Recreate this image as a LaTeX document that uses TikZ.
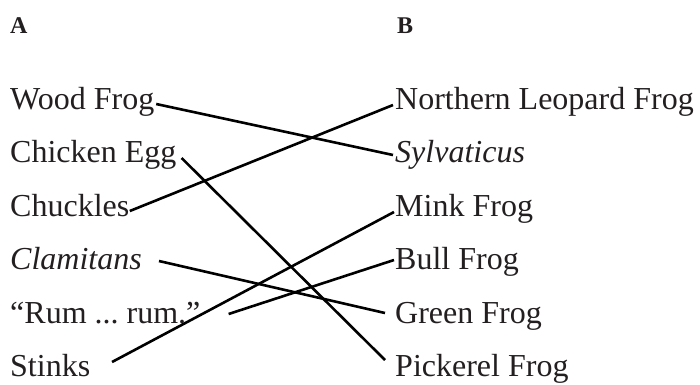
\documentclass[tikz,border=0pt]{standalone}
\usepackage{fontspec}
\setmainfont{Liberation Serif}
\definecolor{ink}{HTML}{231F20}
\frenchspacing
\begin{document}
\begin{tikzpicture}[x=1pt,y=-1pt,
  item/.style={anchor=base west,inner sep=0pt,text=ink,font=\fontsize{32}{36}\selectfont},
  head/.style={anchor=base west,inner sep=0pt,text=ink,font=\fontsize{24}{28}\selectfont\bfseries},
  link/.style={draw=black,line width=2.6pt}]
\useasboundingbox (0,0) rectangle (700,384);
% column headings
\node[head] (hA) at (10,33) {A};
\node[head] (hB) at (397,33) {B};
% column A
\node[item] (wood)  at (10,109)   {Wood Frog};
\node[item] (egg)   at (10,162.5) {Chicken Egg};
\node[item] (chuck) at (10,216)   {Chuckles};
\node[item] (clam)  at (10,269.5) {\itshape Clamitans};
\node[item] (rum)   at (10,323)   {“Rum ... rum.”};
\node[item] (stink) at (10,376.5) {Stinks};
% column B
\node[item] (leop)  at (395,109)   {Northern Leopard Frog};
\node[item] (sylv)  at (395,162.5) {\itshape Sylvaticus};
\node[item] (mink)  at (395,216)   {Mink Frog};
\node[item] (bull)  at (395,269.5) {Bull Frog};
\node[item] (green) at (395,323)   {Green Frog};
\node[item] (pick)  at (395,376.5) {Pickerel Frog};
% matching lines
\draw[link] ([xshift=1.7pt,yshift=5pt]wood.base east)   -- ([xshift=-2pt,yshift=7.5pt]sylv.base west);
\draw[link] ([xshift=5pt,yshift=4.5pt]egg.base east)    -- ([xshift=-10pt,yshift=16.5pt]pick.base west);
\draw[link] ([xshift=0.3pt,yshift=5pt]chuck.base east)  -- ([xshift=-2pt,yshift=4pt]leop.base west);
\draw[link] ([xshift=17pt,yshift=8.5pt]clam.base east)  -- ([xshift=-10pt,yshift=10pt]green.base west);
\draw[link] ([xshift=28pt,yshift=9pt]rum.base east)     -- ([xshift=-1pt,yshift=9.5pt]bull.base west);
\draw[link] ([xshift=21.6pt,yshift=14.5pt]stink.base east) -- ([xshift=-1pt,yshift=4pt]mink.base west);
\end{tikzpicture}
\end{document}
